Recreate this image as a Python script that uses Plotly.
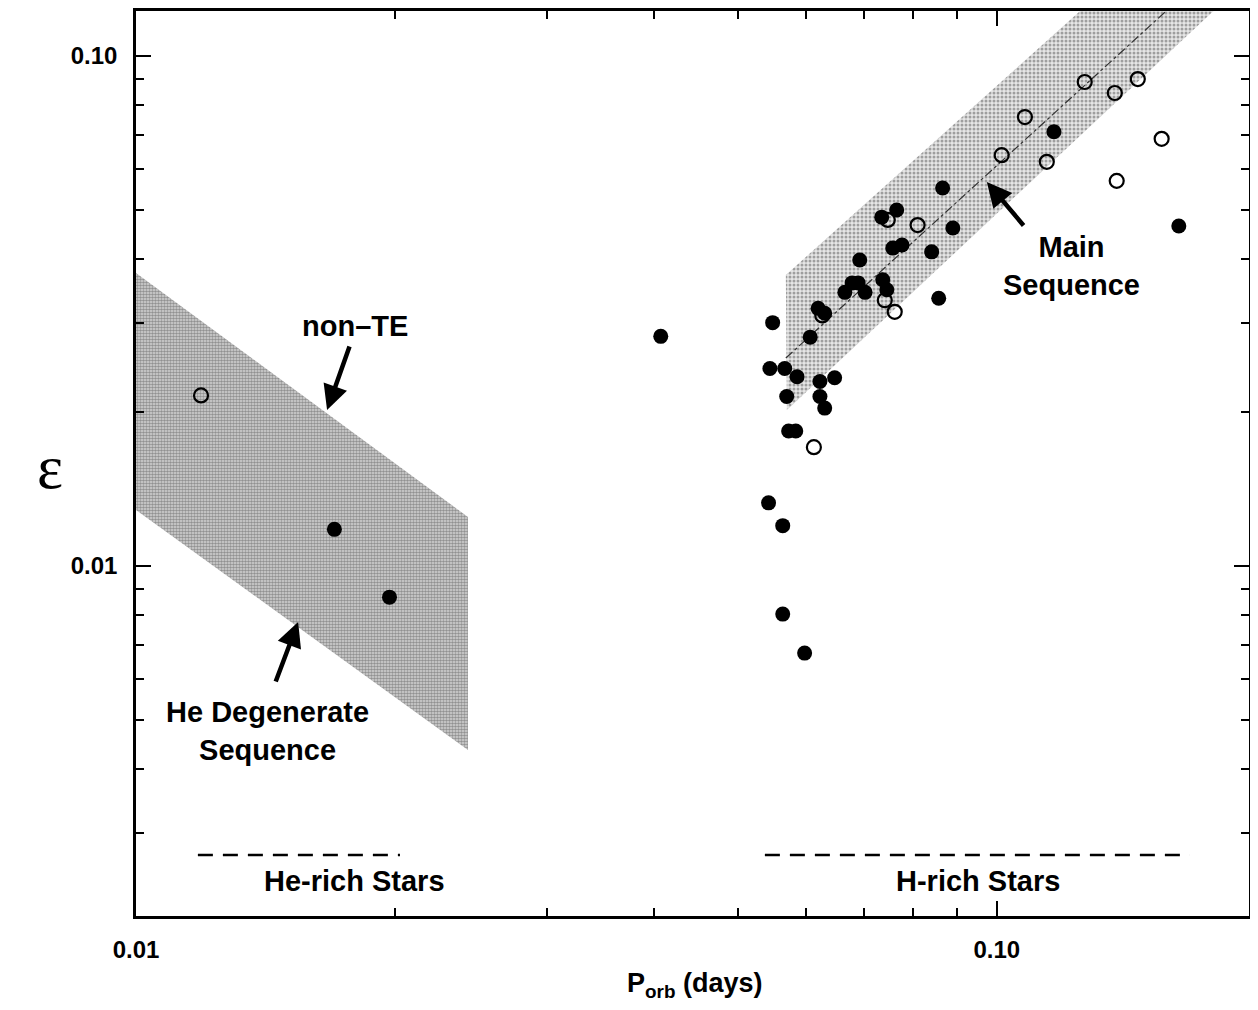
import numpy as np
import plotly.graph_objects as go

# ---------------- data ----------------
# He-rich stars
he_filled_P = [0.0170, 0.0197]
he_filled_eps = [0.0118, 0.00869]
he_open_P = [0.0119]
he_open_eps = [0.0216]

# H-rich stars, filled symbols
h_filled_P = [0.0407, 0.0549, 0.0545, 0.0567, 0.0586, 0.0570, 0.0573, 0.0584,
              0.0543, 0.0564, 0.0564, 0.0598, 0.0607, 0.0620, 0.0631, 0.0623,
              0.0648, 0.0623, 0.0631, 0.0693, 0.0666, 0.0679, 0.0690, 0.0703,
              0.0737, 0.0745, 0.0757, 0.0776, 0.0735, 0.0765, 0.0840, 0.0865,
              0.0889, 0.0856, 0.1165, 0.1627]
h_filled_eps = [0.0282, 0.0300, 0.0244, 0.0244, 0.0235, 0.0215, 0.0184, 0.0184,
                0.0133, 0.0120, 0.00805, 0.00675, 0.0281, 0.0320, 0.0313, 0.0230,
                0.0234, 0.0215, 0.0204, 0.0398, 0.0344, 0.0359, 0.0359, 0.0344,
                0.0364, 0.0348, 0.0420, 0.0426, 0.0483, 0.0499, 0.0413, 0.0551,
                0.0460, 0.0335, 0.0710, 0.0464]

# H-rich stars, open symbols
h_open_P = [0.0613, 0.0627, 0.0741, 0.0761, 0.0747, 0.0809, 0.1013, 0.1078,
            0.1143, 0.1265, 0.1371, 0.1458, 0.1554, 0.1378]
h_open_eps = [0.0171, 0.0310, 0.0332, 0.0315, 0.0477, 0.0466, 0.0639, 0.0759,
              0.0620, 0.0889, 0.0846, 0.0901, 0.0688, 0.0569]

# shaded bands (polygons in P, eps)
he_band_P = [0.0100, 0.0243, 0.0243, 0.0100]
he_band_eps = [0.03755, 0.01248, 0.004357, 0.01288]
ms_band_P = [0.05687, 0.1373, 0.1954, 0.05703]
ms_band_eps = [0.03721, 0.1413, 0.1413, 0.02022]
ms_line_P = [0.05687, 0.1726]
ms_line_eps = [0.02557, 0.1413]

# dashed group lines
he_rich_P = [0.0118, 0.02026]
h_rich_P = [0.05377, 0.1676]
group_eps = [0.002712, 0.002712]

# axis ticks
x_range = [0.0100, 0.1963]
y_range = [0.00206, 0.1225]
x_major = [0.01, 0.1]
x_major_text = ["0.01", "0.10"]
y_major = [0.01, 0.1]
y_major_text = ["0.01", "0.10"]
x_minor = [0.02, 0.03, 0.04, 0.05, 0.06, 0.07, 0.08, 0.09]
y_minor = [0.003, 0.004, 0.005, 0.006, 0.007, 0.008, 0.009,
           0.02, 0.03, 0.04, 0.05, 0.06, 0.07, 0.08, 0.09]

FONT = "Liberation Sans, Arial, Helvetica, sans-serif"

fig = go.Figure()

# bands
fig.add_trace(go.Scatter(
    x=he_band_P + [he_band_P[0]], y=he_band_eps + [he_band_eps[0]],
    mode="lines", fill="toself", line=dict(width=0, color="rgba(0,0,0,0)"),
    fillcolor="#9c9c9c",
    fillpattern=dict(shape=".", size=3, solidity=0.6, fgcolor="#4a4a4a", bgcolor="#d8d8d8"),
    hoverinfo="skip", showlegend=False))
fig.add_trace(go.Scatter(
    x=ms_band_P + [ms_band_P[0]], y=ms_band_eps + [ms_band_eps[0]],
    mode="lines", fill="toself", line=dict(width=0, color="rgba(0,0,0,0)"),
    fillcolor="#bdbdbd",
    fillpattern=dict(shape=".", size=4, solidity=0.45, fgcolor="#555555", bgcolor="#e6e6e6"),
    hoverinfo="skip", showlegend=False))
fig.add_trace(go.Scatter(
    x=ms_line_P, y=ms_line_eps, mode="lines",
    line=dict(color="#333333", width=1.2, dash="dashdot"),
    hoverinfo="skip", showlegend=False))

# dashed group markers
for px in (he_rich_P, h_rich_P):
    fig.add_trace(go.Scatter(
        x=px, y=group_eps, mode="lines",
        line=dict(color="black", width=2.5, dash="15px,10px"),
        hoverinfo="skip", showlegend=False))

# points
fig.add_trace(go.Scatter(
    x=h_filled_P + he_filled_P, y=h_filled_eps + he_filled_eps, mode="markers",
    marker=dict(symbol="circle", size=15, color="black", line=dict(width=0)),
    showlegend=False))
fig.add_trace(go.Scatter(
    x=h_open_P + he_open_P, y=h_open_eps + he_open_eps, mode="markers",
    marker=dict(symbol="circle-open", size=14, color="black", line=dict(width=2.2)),
    showlegend=False))

lx = np.log10
ann = []
txt_font = dict(family=FONT, size=29, color="black", weight="bold")
ann.append(dict(x=lx(0.01795), y=lx(0.002412), text="He-rich Stars", showarrow=False,
                font=txt_font, xanchor="center", yanchor="middle"))
ann.append(dict(x=lx(0.0950), y=lx(0.002412), text="H-rich Stars", showarrow=False,
                font=txt_font, xanchor="center", yanchor="middle"))
ann.append(dict(x=lx(0.01796), y=lx(0.02955), text="non–TE", showarrow=False,
                font=txt_font, xanchor="center", yanchor="middle"))
ann.append(dict(x=lx(0.01423), y=lx(0.00475), text="He Degenerate<br>Sequence", showarrow=False,
                font=txt_font, xanchor="center", yanchor="middle"))
ann.append(dict(x=lx(0.1222), y=lx(0.03875), text="Main<br>Sequence", showarrow=False,
                font=txt_font, xanchor="center", yanchor="middle"))
# arrows
arrow_common = dict(text="", showarrow=True, arrowhead=2, arrowsize=1.1, arrowwidth=4.5,
                    arrowcolor="black", axref="pixel", ayref="pixel")
ann.append(dict(x=lx(0.01667), y=lx(0.02022), ax=23, ay=-65, **arrow_common))
ann.append(dict(x=lx(0.01543), y=lx(0.00777), ax=-23, ay=61, **arrow_common))
ann.append(dict(x=lx(0.09736), y=lx(0.05662), ax=38, ay=45, **arrow_common))
# axis titles
ann.append(dict(xref="paper", yref="paper", x=0.5022, y=-0.0762, text="P<sub>orb</sub> (days)",
                showarrow=False, xanchor="center", yanchor="middle",
                font=dict(family=FONT, size=27, color="black", weight="bold")))
ann.append(dict(xref="paper", yref="paper", x=-0.0773, y=0.4961, text="ε",
                showarrow=False, xanchor="center", yanchor="middle",
                font=dict(family="Liberation Serif, Times New Roman, serif", size=62, color="black")))

axis_common = dict(type="log", showgrid=False, zeroline=False, showline=True,
                   linecolor="black", linewidth=2.5, mirror="ticks", automargin=False,
                   ticks="inside", ticklen=15, tickwidth=2, tickcolor="black",
                   tickfont=dict(family=FONT, size=24, color="black", weight="bold"))

fig.update_xaxes(range=[lx(x_range[0]), lx(x_range[1])], tickmode="array",
                 tickvals=x_major, ticktext=x_major_text, ticklabelstandoff=10,
                 minor=dict(tickmode="array", tickvals=x_minor, ticks="inside",
                            ticklen=8, tickwidth=2, tickcolor="black", showgrid=False),
                 **axis_common)
fig.update_yaxes(range=[lx(y_range[0]), lx(y_range[1])], tickmode="array",
                 tickvals=y_major, ticktext=y_major_text, ticklabelstandoff=11,
                 minor=dict(tickmode="array", tickvals=y_minor, ticks="inside",
                            ticklen=8, tickwidth=2, tickcolor="black", showgrid=False),
                 **axis_common)

# the page body adds an 8px offset; the figure is sized to fit the window without scrollbars
fig.update_layout(width=1242, height=994,
                  margin=dict(l=128, r=1, t=3, b=86, autoexpand=False),
                  paper_bgcolor="white", plot_bgcolor="white",
                  annotations=ann, showlegend=False)

fig.write_html("out.html")
